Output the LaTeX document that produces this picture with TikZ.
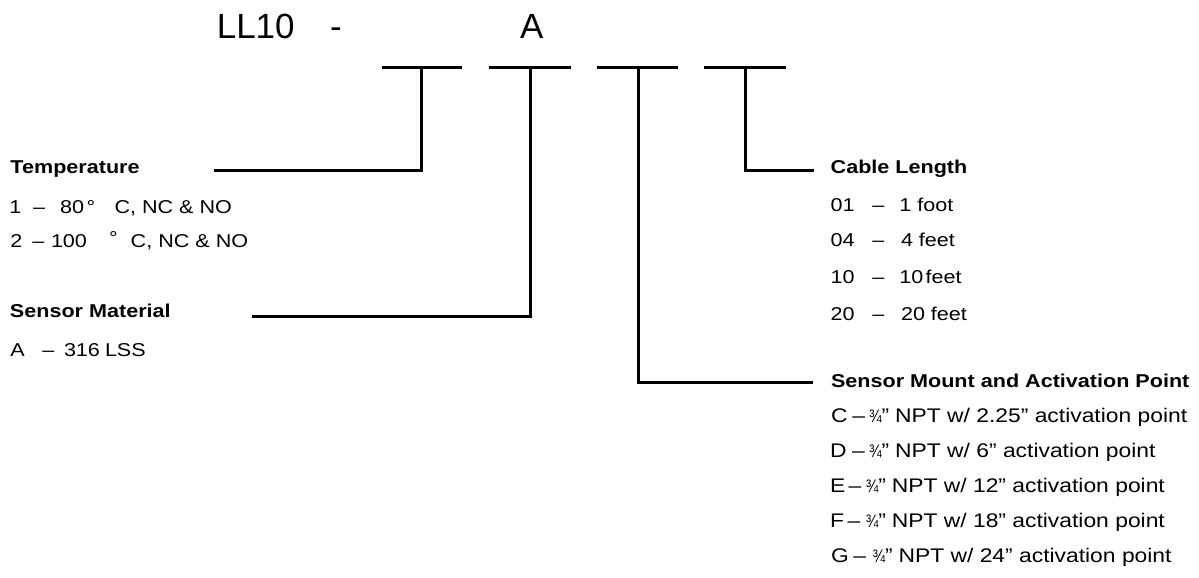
\documentclass[tikz,border=0pt]{standalone}
\usepackage{graphicx}
\usepackage{fontspec}
\setmainfont{Liberation Sans}[FakeStretch=1.16]
\newfontfamily\titlefont{Liberation Sans}
\newcommand{\dsh}{–}
\newcommand{\tq}{\scalebox{0.66}[0.92]{¾}”}
\begin{document}
\begin{tikzpicture}[x=0.5pt,y=-0.5pt,
  txt/.style={anchor=base west, inner sep=0pt, outer sep=0pt, font=\fontsize{9.3}{11}\selectfont},
  mtxt/.style={anchor=base west, inner sep=0pt, outer sep=0pt, font=\fontsize{9.85}{11}\selectfont},
  hd/.style={txt, font=\fontsize{9.3}{11}\selectfont\bfseries},
  ttl/.style={anchor=base west, inner sep=0pt, outer sep=0pt, font=\titlefont\fontsize{17.5}{20}\selectfont},
  bar/.style={line width=1.65pt},
  conn/.style={line width=1.5pt, line join=miter}]
\useasboundingbox (0,0) rectangle (1199,578);
% title
\node[ttl] (tLL) at (216.8,38.3) {LL10};
\node[ttl] (tdash) at (330,38.3) {-};
\node[ttl] (tA) at (520,38.3) {A};
% bars
\coordinate (b1l) at (381.7,67.3); \coordinate (b1r) at (462.3,67.3);
\coordinate (b2l) at (489,67.3);   \coordinate (b2r) at (570.7,67.3);
\coordinate (b3l) at (596.7,67.3); \coordinate (b3r) at (678.3,67.3);
\coordinate (b4l) at (704.3,67.3); \coordinate (b4r) at (786,67.3);
\draw[bar] (b1l) -- (b1r);
\draw[bar] (b2l) -- (b2r);
\draw[bar] (b3l) -- (b3r);
\draw[bar] (b4l) -- (b4r);
\coordinate (v1) at (421.7,67.3);
\coordinate (v2) at (530,67.3);
\coordinate (v3) at (638,67.3);
\coordinate (v4) at (745.5,67.3);
\coordinate (e1) at (213.5,170.7);
\coordinate (e2) at (251.7,316.3);
\coordinate (e3) at (813.3,382.7);
\coordinate (e4) at (813.5,170.7);
\draw[conn] (v1) |- (e1);
\draw[conn] (v2) |- (e2);
\draw[conn] (v3) |- (e3);
\draw[conn] (v4) |- (e4);
% Temperature
\node[hd] (temp) at (10.5,173.3) {Temperature};
\node[txt] (t1a) at (9.5,213.3) {1};
\node[txt] (t1b) at (33,213.3) {\dsh};
\node[txt] (t1c) at (60,213.3) {8};
\node[txt] (t1d) at (72,213.3) {0};
\node[txt] (t1e) at (86.5,213.3) {°};
\node[txt] (t1f) at (114.5,213.3) {C, NC \& NO};
\node[txt] (t2a) at (10.5,247.3) {2};
\node[txt] (t2b) at (32.3,247.3) {\dsh};
\node[txt] (t2c) at (51,247.3) {100};
\node[txt] (t2e) at (109,244.8) {°};
\node[txt] (t2f) at (130.7,247.3) {C, NC \& NO};
% Sensor material
\node[hd] (smat) at (10,317.3) {Sensor Material};
\node[txt] (sma) at (10.5,356) {A};
\node[txt] (smb) at (42.3,356) {\dsh};
\node[txt] (smc) at (64,356) {316};
\node[txt] (smd) at (105,356) {LSS};
% Cable length
\node[hd] (cab) at (830.7,173.3) {Cable Length};
\node[txt] (c1a) at (830.5,211.7) {01};
\node[txt] (c1b) at (872.3,211.7) {\dsh};
\node[txt] (c1c) at (899.3,211.7) {1 foot};
\node[txt] (c2a) at (830.5,246.7) {04};
\node[txt] (c2b) at (872.3,246.7) {\dsh};
\node[txt] (c2c) at (901,246.7) {4 feet};
\node[txt] (c3a) at (830.5,283.3) {10};
\node[txt] (c3b) at (872.3,283.3) {\dsh};
\node[txt] (c3c) at (899.3,283.3) {10\kern1.2pt feet};
\node[txt] (c4a) at (830.5,320) {20};
\node[txt] (c4b) at (872.3,320) {\dsh};
\node[txt] (c4c) at (901,320) {20 feet};
% Sensor mount
\node[hd] (smt) at (831,387) {Sensor Mount and Activation Point};
\node[mtxt] (mCa) at (831,422) {C};
\node[mtxt] (mCb) at (852.4,422) {\dsh};
\node[mtxt] (mCc) at (869,422) {\tq};
\node[mtxt] (mCd) at (895.1,422) {NPT w/ 2.25” activation point};
\node[mtxt] (mDa) at (830,457) {D};
\node[mtxt] (mDb) at (852,457) {\dsh};
\node[mtxt] (mDc) at (869,457) {\tq};
\node[mtxt] (mDd) at (895.1,457) {NPT w/ 6” activation point};
\node[mtxt] (mEa) at (830,492) {E};
\node[mtxt] (mEb) at (848.6,492) {\dsh};
\node[mtxt] (mEc) at (865.8,492) {\tq};
\node[mtxt] (mEd) at (891.8,492) {NPT w/ 12” activation point};
\node[mtxt] (mFa) at (830,527) {F};
\node[mtxt] (mFb) at (847.6,527) {\dsh};
\node[mtxt] (mFc) at (865.8,527) {\tq};
\node[mtxt] (mFd) at (891.8,527) {NPT w/ 18” activation point};
\node[mtxt] (mGa) at (831,562) {G};
\node[mtxt] (mGb) at (853.4,562) {\dsh};
\node[mtxt] (mGc) at (872.5,562) {\tq};
\node[mtxt] (mGd) at (898.5,562) {NPT w/ 24” activation point};
\end{tikzpicture}
\end{document}
